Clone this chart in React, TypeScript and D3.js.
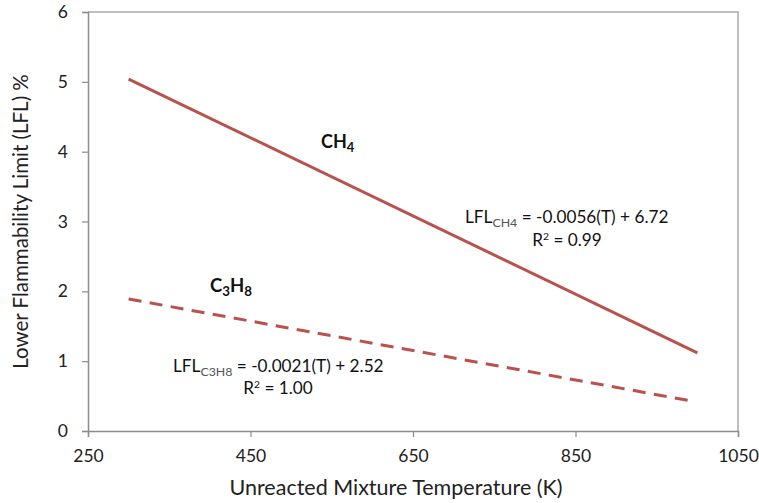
import { useEffect, useRef } from 'react';
import * as d3 from 'd3';

// temperatures (K) and LFL (%)
const ch4Temps = [300, 1000];
const ch4Lfl = [5.04, 1.12];
const c3h8Temps = [300, 988];
const c3h8Lfl = [1.89, 0.44];

const xTicks = [250, 450, 650, 850, 1050];
const yTicks = [0, 1, 2, 3, 4, 5, 6];

const lineColor = '#b9514d';
const font = 'Lato, "Open Sans", sans-serif';

export default function App() {
  const svgRef = useRef<SVGSVGElement | null>(null);

  useEffect(() => {
    if (!svgRef.current) return;
    const width = 759;
    const height = 503;
    const margin = { top: 12, right: 21, bottom: 72, left: 88 };

    const svg = d3.select(svgRef.current);
    svg.selectAll('*').remove();

    const x = d3.scaleLinear().domain([250, 1050]).range([margin.left, width - margin.right]);
    const y = d3.scaleLinear().domain([0, 6]).range([height - margin.bottom, margin.top]);

    // frame top / right
    svg.append('path')
      .attr('d', `M${x(250)},${y(6)}H${x(1050)}V${y(0)}`)
      .attr('fill', 'none')
      .attr('stroke', '#aaa')
      .attr('stroke-width', 1.5);

    const xAxis = svg.append('g')
      .attr('transform', `translate(0,${y(0)})`)
      .call(d3.axisBottom(x).tickValues(xTicks).tickSize(6).tickPadding(13).tickFormat(d3.format('d')));
    const yAxis = svg.append('g')
      .attr('transform', `translate(${x(250)},0)`)
      .call(d3.axisLeft(y).tickValues(yTicks).tickSize(6).tickPadding(14).tickFormat(d3.format('d')));

    [xAxis, yAxis].forEach(a => {
      a.select('.domain').attr('stroke', '#8c8c8c').attr('stroke-width', 1.5);
      a.selectAll('.tick line').attr('stroke', '#8c8c8c').attr('stroke-width', 1.2);
      a.selectAll('.tick text').attr('fill', '#222').style('font-family', font).style('font-size', '17.5px');
    });

    const line = d3.line<[number, number]>().x(d => x(d[0])).y(d => y(d[1]));

    svg.append('path')
      .datum(ch4Temps.map((t, i) => [t, ch4Lfl[i]] as [number, number]))
      .attr('d', line)
      .attr('fill', 'none')
      .attr('stroke', lineColor)
      .attr('stroke-width', 3);

    const dashed = svg.append('path')
      .datum(c3h8Temps.map((t, i) => [t, c3h8Lfl[i]] as [number, number]))
      .attr('d', line)
      .attr('fill', 'none')
      .attr('stroke', lineColor)
      .attr('stroke-width', 3);

    // fit the dash pattern so the line starts and ends with a whole dash
    const len = (dashed.node() as SVGPathElement).getTotalLength();
    const dash = 13;
    const n = Math.round((len + 8) / (dash + 8));
    const gap = (len - n * dash) / (n - 1);
    dashed.attr('stroke-dasharray', `${dash},${gap}`);

    const addFormula = (px: number, py: number, parts: [string, string][], size: number, bold: boolean, anchor = 'start') => {
      const t = svg.append('text')
        .attr('x', px).attr('y', py)
        .attr('text-anchor', anchor)
        .attr('fill', '#111')
        .style('font-family', font)
        .style('font-size', `${size}px`)
        .style('font-weight', bold ? 'bold' : 'normal');
      let shifted = 0;
      parts.forEach(([s, kind]) => {
        let dy = 0;
        let fs = size;
        let fill = '#111';
        if (kind === 'sub') { dy = 4 - shifted; shifted = 4; fs = size * 0.72; if (!bold) fill = '#555'; }
        else if (kind === 'sup') { dy = -6 - shifted; shifted = -6; fs = size * 0.6; }
        else { dy = -shifted; shifted = 0; }
        t.append('tspan').attr('dy', dy).attr('fill', fill).style('font-size', `${fs}px`).text(s);
      });
    };

    addFormula(321, 148, [['CH', ''], ['4', 'sub']], 18, true);
    addFormula(210, 292, [['C', ''], ['3', 'sub'], ['H', ''], ['8', 'sub']], 18.5, true);

    addFormula(465, 223, [['LFL', ''], ['CH4', 'sub'], [' = -0.0056(T) + 6.72', '']], 17.2, false);
    addFormula(567, 246, [['R', ''], ['2', 'sup'], [' = 0.99', '']], 17.2, false, 'middle');

    addFormula(173, 372, [['LFL', ''], ['C3H8', 'sub'], [' = -0.0021(T) + 2.52', '']], 17.2, false);
    addFormula(278, 394, [['R', ''], ['2', 'sup'], [' = 1.00', '']], 17.2, false, 'middle');

    svg.append('text')
      .attr('x', 396)
      .attr('y', 495)
      .attr('text-anchor', 'middle')
      .attr('fill', '#222')
      .style('font-family', font)
      .style('font-size', '21.5px')
      .text('Unreacted Mixture Temperature (K)');

    svg.append('text')
      .attr('transform', `translate(28,${(y(0) + y(6)) / 2}) rotate(-90)`)
      .attr('text-anchor', 'middle')
      .attr('fill', '#222')
      .style('font-family', font)
      .style('font-size', '20.5px')
      .text('Lower Flammability Limit (LFL) %');
  }, []);

  return (
    <div style={{ position: 'absolute', left: 0, top: 0, width: 759, height: 503, background: '#fff' }}>
      <svg ref={svgRef} width={759} height={503} />
    </div>
  );
}
